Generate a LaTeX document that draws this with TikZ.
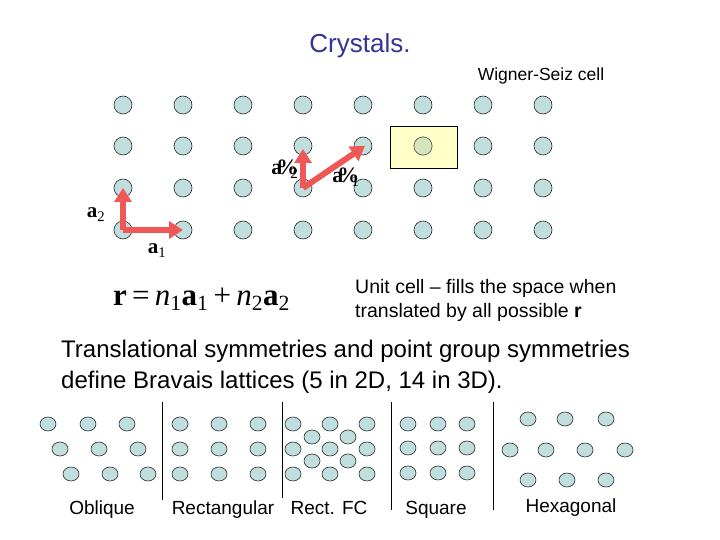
\documentclass[tikz,border=0pt]{standalone}
\usepackage{fontspec}
\setmainfont{Liberation Sans}
\newfontfamily\tms{Liberation Serif}
\usetikzlibrary{arrows.meta,shapes.geometric}
\definecolor{dotfill}{RGB}{192,222,222}
\definecolor{arrowred}{RGB}{240,88,88}
\definecolor{titleblue}{RGB}{51,51,153}
\definecolor{cellyellow}{RGB}{255,255,200}
\definecolor{cellgreen}{RGB}{214,230,188}
\begin{document}
\begin{tikzpicture}[x=1pt,y=-1pt,
  dot/.style={circle,draw=black!85,line width=0.6pt,fill=dotfill,minimum size=18pt,inner sep=0pt},
  sdot/.style={ellipse,draw=black!85,line width=0.6pt,fill=dotfill,minimum width=16pt,minimum height=14pt,inner sep=0pt},
  vec/.style={draw=arrowred,line width=6pt,-{Triangle[width=17pt,length=14pt]}},
  sep/.style={draw=black,line width=0.8pt},
  lab/.style={inner sep=0pt,anchor=base},
  txt/.style={inner sep=0pt,anchor=base west,align=left}]
\useasboundingbox (0,0) rectangle (720,540);
% title
\node[lab,text=titleblue,font=\fontsize{26}{30}\selectfont] (title) at (360,53) {Crystals.};
\node[lab,font=\fontsize{17.5}{21}\selectfont] (ws) at (541,81) {Wigner-Seiz cell};
% Wigner-Seitz cell box
\node[draw=black,line width=0.8pt,fill=cellyellow,minimum width=67pt,minimum height=42pt,inner sep=0pt] (wsbox) at (423.5,147) {};
% lattice
\foreach \i in {1,...,8}{
  \foreach \j/\y in {1/105,2/146,3/188,4/230}{
    \node[dot] (c\i-\j) at ({63+60*\i},\y) {};
  }
}
\node[dot,fill=cellgreen,draw=black!60] (wsdot) at (c6-2) {};
% primitive vectors
\draw[vec] (c1-4.center) -- (c1-3.center);
\draw[vec] (c1-4.center) -- (c2-4.center);
\draw[vec] (c4-3.center) -- ([yshift=-3pt]c4-2.center);
\draw[vec] (c4-3.center) -- ([xshift=2pt]c5-2.center);
\node[lab,font=\tms\bfseries\fontsize{21}{24}\selectfont] (la2) at (96,218) {a\textsubscript{\mdseries 2}};
\node[lab,font=\tms\bfseries\fontsize{21}{24}\selectfont] (la1) at (157,254) {a\textsubscript{\mdseries 1}};
\node[lab,font=\tms\bfseries\fontsize{22}{24}\selectfont] (lb2) at (285,175) {a\kern-6pt\%\kern-8pt\textsubscript{\mdseries 2}};
\node[lab,font=\tms\bfseries\fontsize{22}{24}\selectfont] (lb1) at (346,183) {a\kern-6pt\%\kern-8pt\textsubscript{\mdseries 1}};
% formula
\node[inner sep=0pt,anchor=base west,font=\tms\fontsize{31}{34}\selectfont] (formula) at (113,305)
  {\textbf{r}\,=\,\textit{n}\textsubscript{\raisebox{-2pt}{1}}\textbf{a}\textsubscript{\raisebox{-2pt}{1}}\,+\,\textit{n}\textsubscript{\raisebox{-2pt}{2}}\textbf{a}\textsubscript{\raisebox{-2pt}{2}}};
\node[txt,font=\fontsize{19.5}{24}\selectfont] (unit) at (355,317)
  {Unit cell -- fills the space when\\translated by all possible \textbf{r}};
\node[txt,font=\fontsize{24}{31}\selectfont] (transl) at (61,388)
  {Translational symmetries and point group symmetries\\define Bravais lattices (5 in 2D, 14 in 3D).};
% separators
\draw[sep] (162,402) -- (162,500);
\draw[sep] (282,402) -- (282,498);
\draw[sep] (391,402) -- (391,510);
\draw[sep] (493,402) -- (493,510);
% oblique
\foreach \x [count=\k] in {48,88,127}{\node[sdot] (ob1-\k) at (\x,424) {};}
\foreach \x [count=\k] in {60,99,138}{\node[sdot] (ob2-\k) at (\x,449) {};}
\foreach \x [count=\k] in {71,110,148}{\node[sdot] (ob3-\k) at (\x,474) {};}
% rectangular
\foreach \x [count=\k] in {180,219,258}{
  \foreach \y [count=\m] in {424,449,474}{\node[sdot] (re\k-\m) at (\x,\y) {};}}
% rect FC
\foreach \x [count=\k] in {293,330,367}{
  \foreach \y [count=\m] in {424,449,474}{\node[sdot] (fc\k-\m) at (\x,\y) {};}}
\foreach \x [count=\k] in {312,348}{
  \foreach \y [count=\m] in {437,461}{\node[sdot] (fcc\k-\m) at (\x,\y) {};}}
% square
\foreach \x [count=\k] in {408,438,467}{
  \foreach \y [count=\m] in {424,448,473}{\node[sdot] (sq\k-\m) at (\x,\y) {};}}
% hexagonal
\foreach \x [count=\k] in {528,565,606}{\node[sdot] (hx1-\k) at (\x,419) {};}
\foreach \x [count=\k] in {510,546,585,625}{\node[sdot] (hx2-\k) at (\x,450) {};}
\foreach \x [count=\k] in {528,567,606}{\node[sdot] (hx3-\k) at (\x,480) {};}
% labels
\node[lab,font=\fontsize{19}{23}\selectfont] (lob) at (102,514) {Oblique};
\node[lab,font=\fontsize{19}{23}\selectfont] (lre) at (223,514) {Rectangular};
\node[lab,font=\fontsize{19}{23}\selectfont] (lfc) at (329,514) {Rect. FC};
\node[lab,font=\fontsize{19}{23}\selectfont] (lsq) at (436,514) {Square};
\node[lab,font=\fontsize{19}{23}\selectfont] (lhx) at (571,512) {Hexagonal};
\end{tikzpicture}
\end{document}
